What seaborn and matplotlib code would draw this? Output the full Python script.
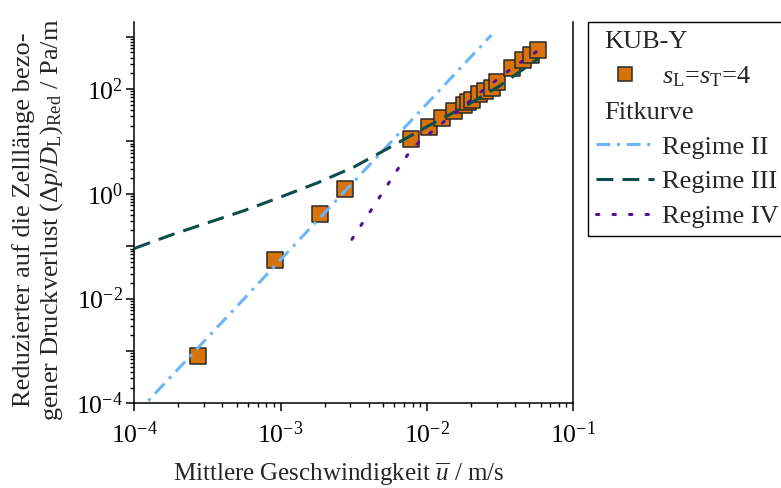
import matplotlib
matplotlib.use("Agg")
import numpy as np
import pandas as pd
import matplotlib.pyplot as plt
import seaborn as sns
from matplotlib.lines import Line2D
from matplotlib.ticker import FixedLocator, FixedFormatter, NullFormatter

# Messwerte KUB-Y, s_L = s_T = 4
u_mess = [2.74e-4, 9.18e-4, 1.86e-3, 2.77e-3, 7.83e-3, 0.0104, 0.0128, 0.01535,
          0.01786, 0.01901, 0.0203, 0.0229, 0.0251, 0.0279, 0.0302, 0.0383,
          0.0455, 0.0519, 0.0573]
dp_mess = [8.07e-4, 0.0553, 0.404, 1.21, 11.2, 18.9, 27.5, 37.4,
           48.8, 56.5, 62.5, 78.8, 91.6, 107.0, 138.0, 247.0,
           357.0, 450.0, 568.0]

# Fitkurven
u_reg2 = [1.0e-4, 0.0277]
dp_reg2 = [5.8e-5, 1080.0]

u_reg3 = [1.0e-4, 1.778e-4, 3.162e-4, 5.623e-4, 1.0e-3, 1.778e-3, 3.162e-3,
          5.623e-3, 0.01, 0.01778, 0.03162, 0.0582]
dp_reg3 = [0.0904, 0.163, 0.279, 0.476, 0.867, 1.607, 3.228,
           7.76, 19.05, 44.7, 115.6, 385.0]

u_reg4 = [3.076e-3, 3.548e-3, 4.121e-3, 4.753e-3, 5.508e-3, 6.353e-3, 7.396e-3,
          8.710e-3, 0.01086, 0.01303, 0.01626, 0.01986, 0.02388, 0.02992,
          0.03631, 0.04603, 0.05675]
dp_reg4 = [0.1349, 0.2489, 0.4667, 0.861, 1.622, 2.992, 5.534,
           9.354, 15.49, 23.44, 38.02, 60.26, 91.2, 147.9,
           223.9, 354.8, 524.8]

x_ticks = [1e-4, 1e-3, 1e-2, 1e-1]
x_tick_labels = ["10$^{-4}$", "10$^{-3}$", "10$^{-2}$", "10$^{-1}$"]
y_ticks = [1e-4, 1e-3, 1e-2, 1e-1, 1e0, 1e1, 1e2, 1e3]
y_tick_labels = ["10$^{-4}$", "", "10$^{-2}$", "", "10$^{0}$", "", "10$^{2}$", ""]

c_mess = "#D8730A"
c_reg2 = "#6BB6FA"
c_reg3 = "#0C4F4A"
c_reg4 = "#54109A"

sns.set_theme(style="ticks")
plt.rcParams.update({
    "font.family": ["Liberation Serif", "DejaVu Serif"],
    "mathtext.fontset": "custom",
    "mathtext.rm": "Liberation Serif",
    "mathtext.it": "Liberation Serif:italic",
    "mathtext.bf": "Liberation Serif:bold",
    "font.size": 18,
    "axes.linewidth": 1.1,
    "axes.edgecolor": "black",
    "xtick.color": "black",
    "ytick.color": "black",
    "xtick.major.size": 6, "xtick.minor.size": 3.2,
    "ytick.major.size": 6, "ytick.minor.size": 3.2,
    "xtick.major.width": 1.1, "xtick.minor.width": 1.0,
    "ytick.major.width": 1.1, "ytick.minor.width": 1.0,
})

fig = plt.figure(figsize=(7.81, 4.88), dpi=100)
ax = fig.add_axes([134.3 / 781, 1 - 403.3 / 488, (573 - 134.3) / 781, (403.3 - 22) / 488])

df_mess = pd.DataFrame({"u": u_mess, "dp": dp_mess})
df2 = pd.DataFrame({"u": u_reg2, "dp": dp_reg2})
df3 = pd.DataFrame({"u": u_reg3, "dp": dp_reg3})
df4 = pd.DataFrame({"u": u_reg4, "dp": dp_reg4})

lw = 2.2
dash2 = [4.5, 2.2, 1.0, 2.2]
dash3 = [5.5, 3.0]
dash4 = [0.8, 4.6]

sns.lineplot(data=df2, x="u", y="dp", ax=ax, color=c_reg2, lw=lw, sort=False,
             estimator=None)
ax.lines[-1].set_dashes(dash2)
sns.lineplot(data=df3, x="u", y="dp", ax=ax, color=c_reg3, lw=lw, sort=False,
             estimator=None)
ax.lines[-1].set_dashes(dash3)
sns.lineplot(data=df4, x="u", y="dp", ax=ax, color=c_reg4, lw=lw, sort=False,
             estimator=None)
ax.lines[-1].set_dashes(dash4)
ax.lines[-1].set_dash_capstyle("round")

sns.scatterplot(data=df_mess, x="u", y="dp", ax=ax, marker="s", s=120,
                color=c_mess, edgecolor="#2a2a2a", linewidth=1.1, zorder=3)

# Fitkurven über den Messpunkten zeichnen
for ln in ax.lines:
    ln.set_zorder(4)

ax.set_xscale("log")
ax.set_yscale("log")
ax.set_xlim(1e-4, 1e-1)
ax.set_ylim(1e-4, 10 ** (3 + (36.7 - 22) / 52.5))

ax.xaxis.set_major_locator(FixedLocator(x_ticks))
ax.xaxis.set_major_formatter(FixedFormatter(x_tick_labels))
ax.yaxis.set_major_locator(FixedLocator(y_ticks))
ax.yaxis.set_major_formatter(FixedFormatter(y_tick_labels))
ax.xaxis.set_minor_formatter(NullFormatter())
ax.yaxis.set_minor_formatter(NullFormatter())
ax.tick_params(axis="both", which="both", direction="out", top=False, right=False,
               labelsize=18.5)
ax.tick_params(axis="x", pad=7)
ax.tick_params(axis="y", pad=2)

ax.spines["top"].set_visible(False)
ax.spines["right"].set_visible(True)

ax.set_xlabel(r"Mittlere Geschwindigkeit $\overline{u}$ / m/s", fontsize=18, labelpad=9)
ax.xaxis.label.set_x(0.4666)
ax.set_ylabel("Reduzierter auf die Zelllänge bezo-\n"
              r"gener Druckverlust $(\Delta p/D_\mathrm{L})_\mathrm{Red}$ / Pa/m",
              fontsize=19, labelpad=8.5, linespacing=1.12)
ax.yaxis.label.set_y(0.482)

# Legende
h_head1 = Line2D([], [], linestyle="none")
h_mess = Line2D([], [], linestyle="none", marker="s", markersize=10.5,
                markerfacecolor=c_mess, markeredgecolor="#2a2a2a", markeredgewidth=1.1)
h_head2 = Line2D([], [], linestyle="none")
h2 = Line2D([], [], color=c_reg2, lw=lw, dashes=dash2)
h3 = Line2D([], [], color=c_reg3, lw=lw, dashes=dash3)
h4 = Line2D([], [], color=c_reg4, lw=lw, dashes=dash4, dash_capstyle="round")
handles = [h_head1, h_mess, h_head2, h2, h3, h4]
labels = ["KUB-Y", r"$s_\mathrm{L}$=$s_\mathrm{T}$=4", "Fitkurve",
          "Regime II", "Regime III", "Regime IV"]
leg = fig.legend(handles, labels, loc="upper left",
                 bbox_to_anchor=(588 / 781, 1 - 21.7 / 488),
                 bbox_transform=fig.transFigure, frameon=True, fancybox=False,
                 framealpha=1, edgecolor="black", fontsize=19,
                 handlelength=2.2, handletextpad=0.3, labelspacing=0.43,
                 borderpad=0.3, borderaxespad=0)
leg.get_frame().set_linewidth(1.0)
for vpack in leg._legend_handle_box.get_children():
    for hpack in vpack.get_children():
        area, text = hpack.get_children()
        if text.get_text() in ("KUB-Y", "Fitkurve"):
            area.set_width(0)

fig.savefig("out.png", dpi=100)
